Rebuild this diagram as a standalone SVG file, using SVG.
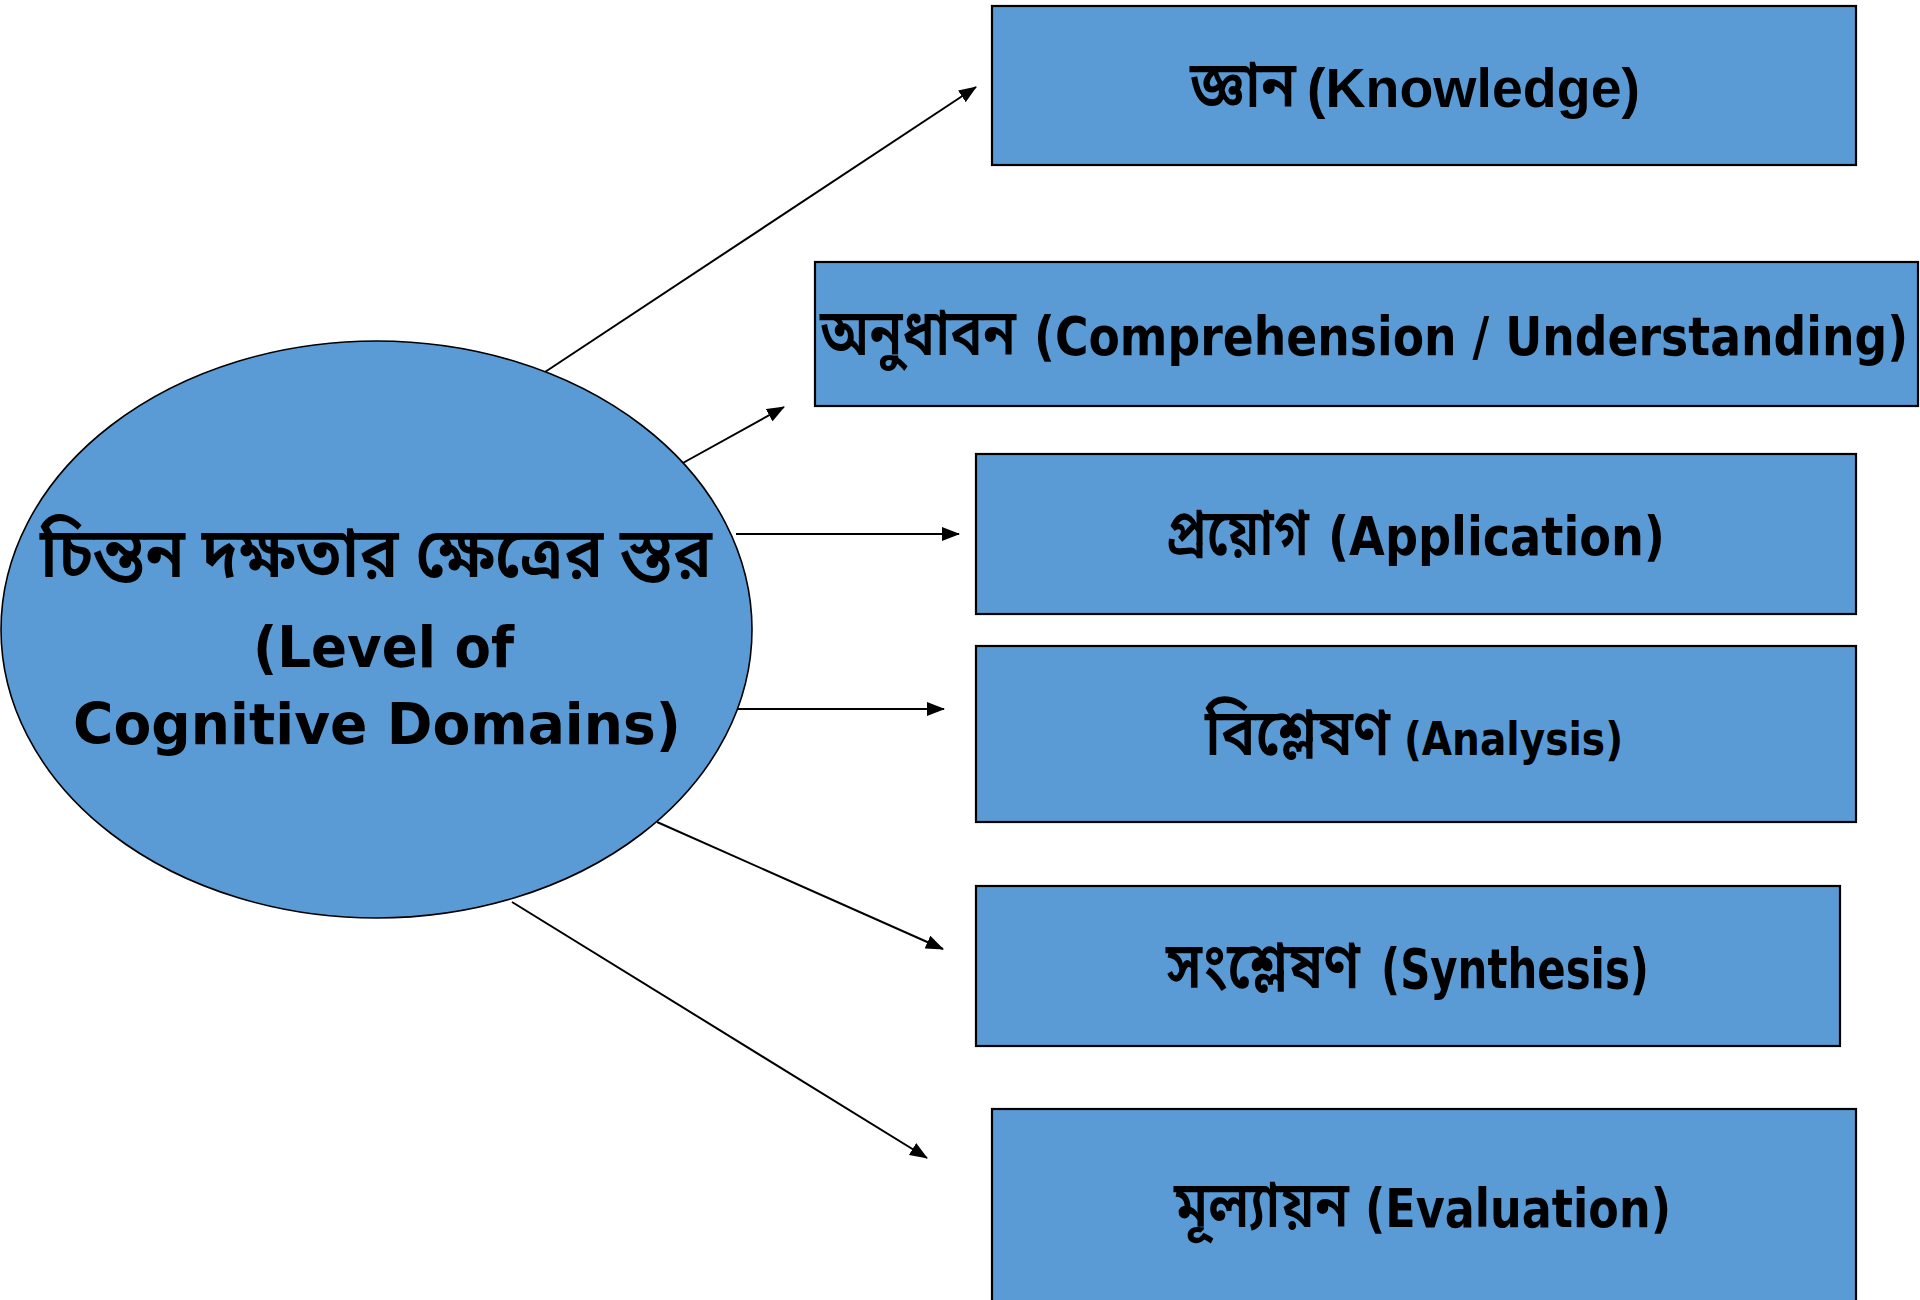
<svg xmlns="http://www.w3.org/2000/svg" width="1920" height="1300" viewBox="0 0 1920 1300">
<style>
.node{fill:#5B9BD5;stroke:#000;stroke-width:2.2}
.ell{fill:#5B9BD5;stroke:#000;stroke-width:1.6}
.bn{font-family:"Noto Sans Bengali","Noto Serif Bengali","Lohit Bengali","Vrinda","Liberation Sans",sans-serif;font-weight:600;fill:#000}
.en{font-family:"DejaVu Sans","Liberation Sans",sans-serif;font-weight:bold;fill:#000}
.ar{font-family:"Liberation Sans",Arial,sans-serif;font-weight:bold;fill:#000}
.conn{stroke:#000;stroke-width:2;fill:none;marker-end:url(#ah)}
</style>
<defs>
<marker id="ah" markerUnits="userSpaceOnUse" markerWidth="18" markerHeight="14" refX="17" refY="7" orient="auto">
<path d="M0,0 L18,7 L0,14 z" fill="#000"/>
</marker>
</defs>
<rect width="1920" height="1300" fill="#fff"/>
<g id="connectors">
<line class="conn" x1="545" y1="372" x2="976" y2="87"/>
<line class="conn" x1="672" y1="469" x2="784" y2="407"/>
<line class="conn" x1="736" y1="534" x2="959" y2="534"/>
<line class="conn" x1="738" y1="709" x2="944" y2="709"/>
<line class="conn" x1="657" y1="822" x2="943" y2="949"/>
<line class="conn" x1="512" y1="902" x2="927" y2="1158"/>
</g>
<g id="center">
<ellipse class="ell" cx="376.5" cy="629.5" rx="375.5" ry="288.5"/>
<text class="bn" x="40" y="577" font-size="70" textLength="672" lengthAdjust="spacingAndGlyphs">চিন্তন দক্ষতার ক্ষেত্রের স্তর</text>
<text class="en" x="253" y="667" font-size="57" textLength="261" lengthAdjust="spacingAndGlyphs">(Level of</text>
<text class="en" x="73" y="744" font-size="57" textLength="608" lengthAdjust="spacingAndGlyphs">Cognitive Domains)</text>
</g>
<g id="knowledge">
<rect class="node" x="992" y="6" width="864" height="159"/>
<text class="bn" x="1190" y="107" font-size="65" textLength="106" lengthAdjust="spacingAndGlyphs">জ্ঞান</text>
<text class="ar" x="1307" y="107" font-size="55" textLength="333" lengthAdjust="spacingAndGlyphs">(Knowledge)</text>
</g>
<g id="comprehension">
<rect class="node" x="815" y="262" width="1103" height="144"/>
<text class="bn" x="820" y="355" font-size="65" textLength="196" lengthAdjust="spacingAndGlyphs">অনুধাবন</text>
<text class="en" transform="translate(1034,355) scale(0.862,1)" x="0" y="0" font-size="53" textLength="1014" lengthAdjust="spacingAndGlyphs">(Comprehension / Understanding)</text>
</g>
<g id="application">
<rect class="node" x="976" y="454" width="880" height="160"/>
<text class="bn" x="1166" y="555" font-size="65" textLength="143" lengthAdjust="spacingAndGlyphs">প্রয়োগ</text>
<text class="en" x="1328" y="555" font-size="53" textLength="337" lengthAdjust="spacingAndGlyphs">(Application)</text>
</g>
<g id="analysis">
<rect class="node" x="976" y="646" width="880" height="176"/>
<text class="bn" x="1205" y="755" font-size="65" textLength="185" lengthAdjust="spacingAndGlyphs">বিশ্লেষণ</text>
<text class="en" x="1404" y="755" font-size="47" textLength="219" lengthAdjust="spacingAndGlyphs">(Analysis)</text>
</g>
<g id="synthesis">
<rect class="node" x="976" y="886" width="864" height="160"/>
<text class="bn" x="1166" y="988" font-size="65" textLength="194" lengthAdjust="spacingAndGlyphs">সংশ্লেষণ</text>
<text class="en" x="1381" y="988" font-size="55" textLength="268" lengthAdjust="spacingAndGlyphs">(Synthesis)</text>
</g>
<g id="evaluation">
<rect class="node" x="992" y="1109" width="864" height="215"/>
<text class="bn" x="1174" y="1227" font-size="65" textLength="175" lengthAdjust="spacingAndGlyphs">মূল্যায়ন</text>
<text class="en" x="1365" y="1227" font-size="54" textLength="306" lengthAdjust="spacingAndGlyphs">(Evaluation)</text>
</g>
</svg>
